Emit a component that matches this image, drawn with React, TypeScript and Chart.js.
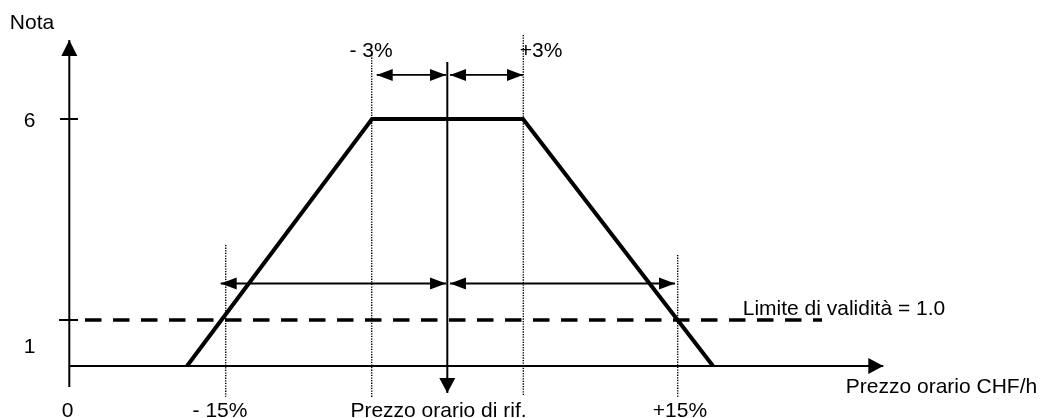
import React, { useEffect, useRef } from "react";
import { Chart, registerables } from "chart.js";

Chart.register(...registerables);

// ---- Data (diagram units: x = horizontal position, y = "Nota") ----
const axisLevel = -0.144;
const yAxisPos = 69.3;

const trapezoidX = [187, 372, 523, 713];
const trapezoidY = [axisLevel, 6, 6, axisLevel];

const yAxisX = [yAxisPos, yAxisPos];
const yAxisY = [-0.667, 7.965];

const xAxisX = [yAxisPos, 883.3];
const xAxisY = [axisLevel, axisLevel];

const tick6X = [60, 78];
const tick6Y = [6, 6];
const tick1X = [59, 78];
const tick1Y = [1, 1];

const limitX = [85, 822];
const limitY = [1, 1];

const refLineX = [447.3, 447.3];
const refLineY = [7.418, -0.816];

const dottedX = [225.7, 371.7, 523.3, 677.7];
const dottedTop = [2.866, 7.592, 8.09, 2.617];
const dottedBottom = [-0.91, -0.915, -0.866, -0.94];

const topArrowY = 7.095;
const topArrowLeftX = [376.7, 446];
const topArrowRightX = [450, 523];

const lowArrowY = 1.908;
const lowArrowLeftX = [220.7, 446];
const lowArrowRightX = [450, 675];

const labelTexts = [
  "Nota",
  "6",
  "1",
  "0",
  "- 15%",
  "Prezzo orario di rif.",
  "+15%",
  "- 3%",
  "+3%",
  "Limite di validità = 1.0",
  "Prezzo orario CHF/h",
];
const labelX = [32, 29.5, 29.5, 67.5, 220, 438.5, 680, 371, 541, 844, 941.5];
const labelY = [8.239, 5.801, 0.179, -1.413, -1.413, -1.413, -1.413, 7.542, 7.542, 1.124, -0.816];

const xMin = 0;
const xMax = 1041;
const yMin = -1.438;
const yMax = 8.96;

// ---- helpers ----
function pts(xs: number[], ys: number[]) {
  return xs.map((x, i) => ({ x, y: ys[i] }));
}

function seg(
  data: { x: number; y: number }[],
  width: number,
  extra: Record<string, any> = {}
) {
  return {
    data,
    borderColor: "#000",
    backgroundColor: "#000",
    borderWidth: width,
    pointRadius: 0,
    pointHoverRadius: 0,
    showLine: true,
    tension: 0,
    fill: false,
    clip: false as any,
    borderCapStyle: "butt",
    borderJoinStyle: "miter",
    ...extra,
  };
}

const arrowPlugin = {
  id: "arrowHeads",
  afterDatasetsDraw(chart: any) {
    const ctx = chart.ctx;
    chart.data.datasets.forEach((ds: any, i: number) => {
      const meta = chart.getDatasetMeta(i);
      const p = meta.data;
      if (!p || p.length < 2) return;
      const draw = (tip: any, from: any, len: number, half: number) => {
        const dx = tip.x - from.x;
        const dy = tip.y - from.y;
        const d = Math.hypot(dx, dy) || 1;
        const ux = dx / d;
        const uy = dy / d;
        const bx = tip.x - ux * len;
        const by = tip.y - uy * len;
        ctx.save();
        ctx.fillStyle = "#000";
        ctx.beginPath();
        ctx.moveTo(tip.x, tip.y);
        ctx.lineTo(bx - uy * half, by + ux * half);
        ctx.lineTo(bx + uy * half, by - ux * half);
        ctx.closePath();
        ctx.fill();
        ctx.restore();
      };
      const len = ds.arrowLen || 16;
      const half = ds.arrowHalf || 6;
      if (ds.arrowStart) draw(p[0], p[1], len, half);
      if (ds.arrowEnd) draw(p[p.length - 1], p[p.length - 2], len, half);
    });
  },
};

const labelPlugin = {
  id: "diagramLabels",
  afterDraw(chart: any) {
    const ctx = chart.ctx;
    const xs = chart.scales.x;
    const ys = chart.scales.y;
    ctx.save();
    ctx.fillStyle = "#000";
    ctx.font = '21px "Liberation Sans", Arial, sans-serif';
    ctx.textAlign = "center";
    ctx.textBaseline = "alphabetic";
    labelTexts.forEach((t, i) => {
      ctx.fillText(t, xs.getPixelForValue(labelX[i]), ys.getPixelForValue(labelY[i]));
    });
    ctx.restore();
  },
};

export default function App() {
  const ref = useRef<HTMLCanvasElement | null>(null);

  useEffect(() => {
    if (!ref.current) return;
    const dotted = dottedX.map((x, i) =>
      seg(pts([x, x], [dottedTop[i], dottedBottom[i]]), 1.4, { borderDash: [1.3, 1.3] })
    );
    const datasets: any[] = [
      seg(pts(yAxisX, yAxisY), 2, { arrowEnd: true, arrowLen: 16, arrowHalf: 8 }),
      seg(pts(xAxisX, xAxisY), 2, { arrowEnd: true, arrowLen: 15, arrowHalf: 8 }),
      seg(pts(tick6X, tick6Y), 2),
      seg(pts(tick1X, tick1Y), 2),
      ...dotted,
      seg(pts(limitX, limitY), 3.5, { borderDash: [16.5, 11.5] }),
      seg(pts(trapezoidX, trapezoidY), 4),
      seg(pts(refLineX, refLineY), 2, { arrowEnd: true, arrowLen: 15, arrowHalf: 8 }),
      seg(pts(topArrowLeftX, [topArrowY, topArrowY]), 1.8, { arrowStart: true, arrowEnd: true }),
      seg(pts(topArrowRightX, [topArrowY, topArrowY]), 1.8, { arrowStart: true, arrowEnd: true }),
      seg(pts(lowArrowLeftX, [lowArrowY, lowArrowY]), 1.8, { arrowStart: true, arrowEnd: true }),
      seg(pts(lowArrowRightX, [lowArrowY, lowArrowY]), 1.8, { arrowStart: true, arrowEnd: true }),
    ];
    const chart = new Chart(ref.current, {
      type: "scatter",
      data: { datasets },
      options: {
        animation: false,
        responsive: false,
        maintainAspectRatio: false,
        events: [],
        layout: { padding: 0 },
        plugins: {
          legend: { display: false },
          tooltip: { enabled: false },
          title: { display: false },
        },
        scales: {
          x: { type: "linear", min: xMin, max: xMax, display: false },
          y: { type: "linear", min: yMin, max: yMax, display: false },
        },
      },
      plugins: [arrowPlugin, labelPlugin],
    });
    return () => chart.destroy();
  }, []);

  return (
    <div style={{ position: "fixed", left: 0, top: 0, width: 1041, height: 418, background: "#fff" }}>
      <canvas ref={ref} width={1041} height={418} style={{ display: "block" }} />
    </div>
  );
}
